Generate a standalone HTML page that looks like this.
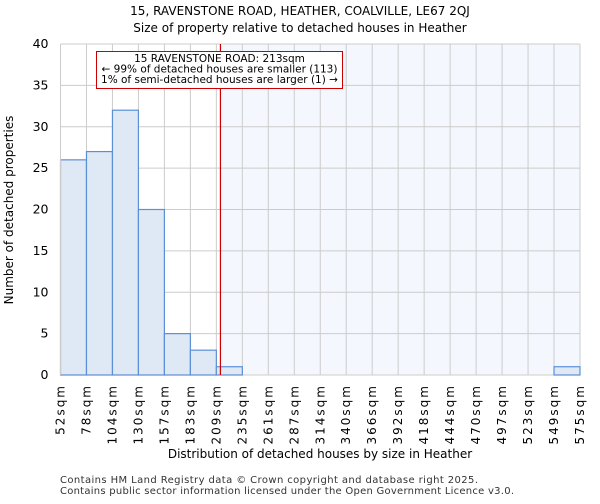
<!DOCTYPE html>
<html><head><meta charset="utf-8"><style>
body{margin:0;background:#fff;font-family:"DejaVu Sans","Liberation Sans",sans-serif}
</style></head><body>
<svg id="chart" width="600" height="500" xmlns="http://www.w3.org/2000/svg" font-family="DejaVu Sans, Liberation Sans, sans-serif">
<text x="300" y="15" text-anchor="middle" font-size="12">15, RAVENSTONE ROAD, HEATHER, COALVILLE, LE67 2QJ</text>
<text x="300" y="32" text-anchor="middle" font-size="12">Size of property relative to detached houses in Heather</text>
<g id="grid"></g><g id="bars"></g><g id="axes"></g>
<text x="320" y="458" text-anchor="middle" font-size="12">Distribution of detached houses by size in Heather</text>
<text transform="translate(13,210) rotate(-90)" text-anchor="middle" font-size="12">Number of detached properties</text>
<text x="60" y="483" font-size="10" fill="#333" textLength="418" lengthAdjust="spacing">Contains HM Land Registry data © Crown copyright and database right 2025.</text>
<text x="60" y="494" font-size="10" fill="#333" textLength="454" lengthAdjust="spacing">Contains public sector information licensed under the Open Government Licence v3.0.</text>
</svg>
<script>
const tickLabels=["52sqm","78sqm","104sqm","130sqm","157sqm","183sqm","209sqm","235sqm","261sqm","287sqm","314sqm","340sqm","366sqm","392sqm","418sqm","444sqm","470sqm","497sqm","523sqm","549sqm","575sqm"];
const counts=[26,27,32,20,5,3,1,0,0,0,0,0,0,0,0,0,0,0,0,1];
const yTicks=[0,5,10,15,20,25,30,35,40];
const minSqm=52, maxSqm=575, subjectSqm=213;
const X0=60.5,X1=580,Y0=375,Y1=44,YMAX=40;
const NS="http://www.w3.org/2000/svg";
const xb=i=>X0+(X1-X0)*i/counts.length;
const xs=v=>X0+(X1-X0)*(v-minSqm)/(maxSqm-minSqm);
const y=v=>Y0-(Y0-Y1)*v/YMAX;
function mk(t,a,p){const e=document.createElementNS(NS,t);for(const k in a)e.setAttribute(k,a[k]);p.appendChild(e);return e;}
const grid=document.getElementById('grid'),bars=document.getElementById('bars'),axes=document.getElementById('axes');
const sx=xs(subjectSqm);
const sh=mk('rect',{x:sx,y:Y1,width:X1-sx,height:Y0-Y1,fill:'#f4f7fd'},grid);


for(let i=0;i<tickLabels.length;i++){
 const gl=mk('line',{x1:xb(i),x2:xb(i),y1:Y1,y2:Y0,stroke:'#cccccc','stroke-width':1},grid);
 
 
 const t=mk('text',{transform:`translate(${xb(i)+4},${Y0+9}) rotate(-90)`,'text-anchor':'end','font-size':12,'letter-spacing':'2'},axes);
 t.textContent=tickLabels[i];
 
 
}
yTicks.forEach(v=>{
 const gl=mk('line',{x1:X0,x2:X1,y1:y(v),y2:y(v),stroke:'#cccccc','stroke-width':1},grid);
 
 
 const t=mk('text',{x:X0-12,y:y(v)+4,'text-anchor':'end','font-size':12.5},axes);
 t.textContent=v;
 
 
});
counts.forEach((c,i)=>{
 if(c<=0)return;
 const r=mk('rect',{x:xb(i),y:y(c),width:xb(i+1)-xb(i),height:Y0-y(c),fill:'#dfe8f5',stroke:'#5b8fd6','stroke-width':1.2},bars);
 
 
});
const ax=mk('line',{x1:X0,x2:X0,y1:Y1,y2:Y0,stroke:'#cccccc'},axes);


const ln=mk('line',{x1:sx,x2:sx,y1:Y1,y2:Y0,stroke:'#cc0000','stroke-width':1.2},axes);


const box=mk('rect',{x:96.5,y:51.5,width:246,height:37,fill:'#fff',stroke:'#cc0000','stroke-width':1},axes);


["15 RAVENSTONE ROAD: 213sqm","← 99% of detached houses are smaller (113)","1% of semi-detached houses are larger (1) →"].forEach((s,i)=>{
 const t=mk('text',{x:219.5,y:62+i*10.5,'text-anchor':'middle','font-size':10.5},axes);
 t.textContent=s;
 
 
});
</script>
</body></html>
